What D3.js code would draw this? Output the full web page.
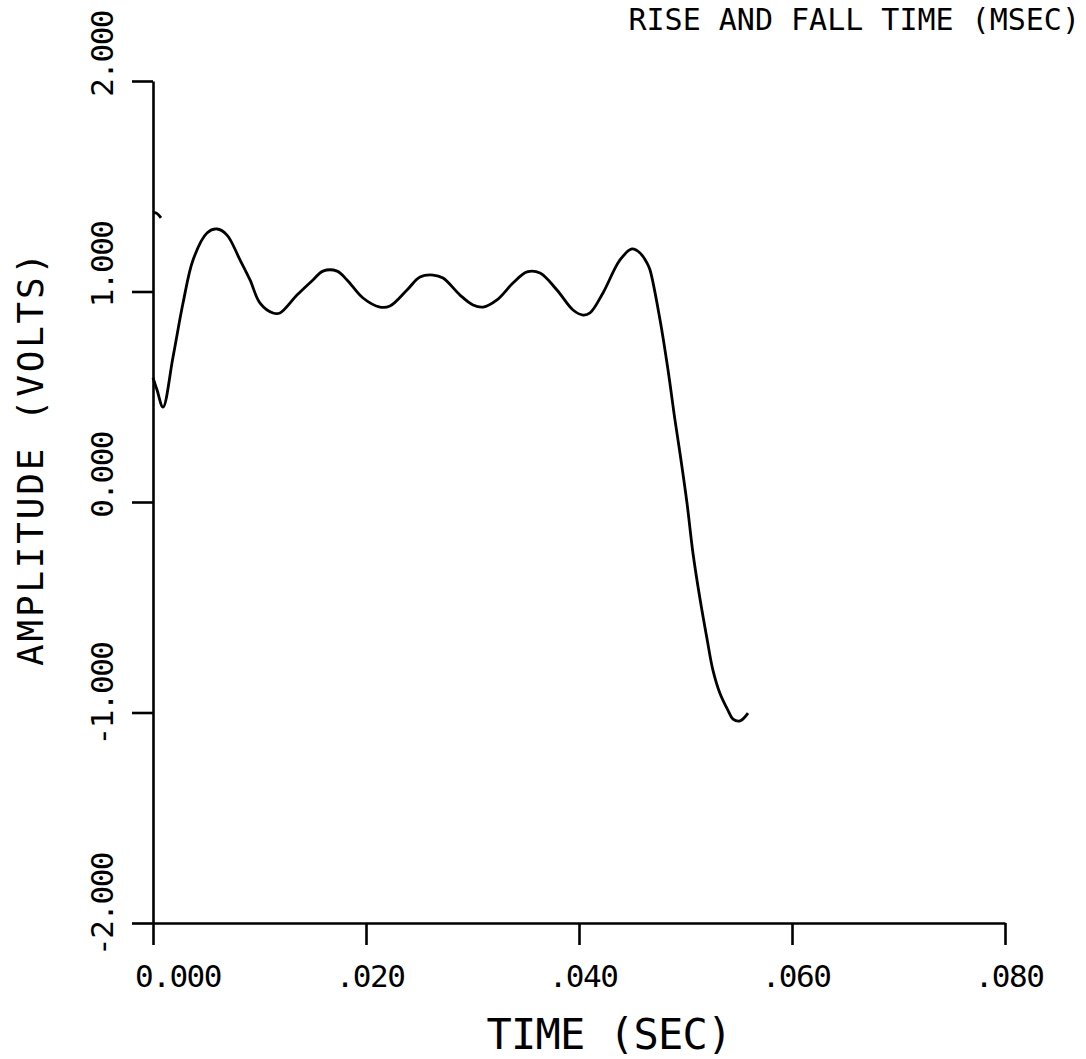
<!DOCTYPE html>
<html>
<head>
<meta charset="utf-8">
<script src="https://cdn.jsdelivr.net/npm/d3@7"></script>
<style>
  body { margin: 0; background: #fff; }
  text { font-family: "DejaVu Sans Mono", monospace; fill: #000; }
</style>
</head>
<body>
<svg id="chart"></svg>
<script>
// waveform: time in seconds, amplitude in volts
const timeSec = [0, 0.00038, 0.00094, 0.00188, 0.00282, 0.00376, 0.00507, 0.00601, 0.00695, 0.00817,
  0.00911, 0.01005, 0.01127, 0.01192, 0.01352, 0.01502, 0.01596, 0.01728, 0.01822, 0.01972,
  0.02131, 0.02225, 0.02385, 0.02507, 0.02629, 0.02723, 0.02883, 0.03005, 0.03099, 0.03230,
  0.03380, 0.03512, 0.03634, 0.03793, 0.03944, 0.04038, 0.04103, 0.04225, 0.04385, 0.04498,
  0.04573, 0.04639, 0.04667, 0.04761, 0.04836, 0.04901, 0.04948, 0.05014, 0.05070, 0.05136,
  0.05202, 0.05258, 0.05324, 0.05399, 0.05446, 0.05512, 0.05587]
const amplitude = [0.59, 0.532, 0.451, 0.689, 0.945, 1.150, 1.278, 1.297, 1.268, 1.150,
  1.055, 0.945, 0.898, 0.898, 0.983, 1.055, 1.097, 1.097, 1.055, 0.969,
  0.926, 0.931, 1.007, 1.069, 1.078, 1.064, 0.983, 0.936, 0.926, 0.960,
  1.040, 1.093, 1.088, 1.007, 0.912, 0.888, 0.898, 0.993, 1.150, 1.202,
  1.183, 1.135, 1.102, 0.865, 0.627, 0.390, 0.233, -0.005, -0.242, -0.46,
  -0.65, -0.80, -0.91, -0.99, -1.031, -1.040, -1.003]

// little pen hook at the very start of the trace
const hookTime = [0, 0.0003, 0.00075]
const hookAmp = [1.373, 1.373, 1.35]

const xTicks = [0, 0.02, 0.04, 0.06, 0.08]
const xTickLabels = ['0.000', '.020', '.040', '.060', '.080']
const yTicks = [-2, -1, 0, 1, 2]
const yTickLabels = ['-2.000', '-1.000', '0.000', '1.000', '2.000']

const title = 'RISE AND FALL TIME (MSEC)'
const xTitle = 'TIME (SEC)'
const yTitle = 'AMPLITUDE (VOLTS)'

const width = 1086
const height = 1059
const margin = {top: 81, right: 81, bottom: 136, left: 153}

const svg = d3.select('#chart')
  .attr('width', width)
  .attr('height', height)

const x = d3.scaleLinear()
  .domain([0, 0.08])
  .range([margin.left, width - margin.right])

const y = d3.scaleLinear()
  .domain([-2, 2])
  .range([height - margin.bottom, margin.top])

// axes: ticks double as the other axis's overhang
svg.append('g')
  .attr('transform', 'translate(' + x(0) + ',0)')
  .call(d3.axisLeft(y).tickValues(yTicks).tickSize(21).tickSizeOuter(0).tickFormat(''))
  .call(g => g.selectAll('path, line').attr('stroke', '#000').attr('stroke-width', 2.6))

svg.append('g')
  .attr('transform', 'translate(0,' + y(-2) + ')')
  .call(d3.axisBottom(x).tickValues(xTicks).tickSize(22).tickSizeOuter(0).tickFormat(''))
  .call(g => g.selectAll('path, line').attr('stroke', '#000').attr('stroke-width', 2.6))

// tick labels
svg.append('g')
  .selectAll('text')
  .data(yTicks)
  .enter()
  .append('text')
  .attr('transform', d => 'translate(113,' + (y(d) - 70) + ') rotate(-90)')
  .attr('text-anchor', 'end')
  .style('font-size', '31px')
  .style('letter-spacing', '-1.5px')
  .text((d, i) => yTickLabels[i])

svg.append('g')
  .selectAll('text')
  .data(xTicks)
  .enter()
  .append('text')
  .attr('x', (d, i) => x(d) + (i === 0 ? 25 : 4))
  .attr('y', 987)
  .attr('text-anchor', 'middle')
  .style('font-size', '31px')
  .style('letter-spacing', '-1.5px')
  .text((d, i) => xTickLabels[i])

// titles
svg.append('text')
  .attr('x', 1080)
  .attr('y', 30)
  .attr('text-anchor', 'end')
  .style('font-size', '30px')
  .text(title)

svg.append('text')
  .attr('x', 609)
  .attr('y', 1049)
  .attr('text-anchor', 'middle')
  .style('font-size', '42px')
  .style('letter-spacing', '-0.8px')
  .text(xTitle)

svg.append('text')
  .attr('transform', 'translate(43,458) rotate(-90)')
  .attr('text-anchor', 'middle')
  .style('font-size', '36px')
  .style('letter-spacing', '2.8px')
  .text(yTitle)

// trace
const line = d3.line()
  .x(d => x(d[0]))
  .y(d => y(d[1]))
  .curve(d3.curveCatmullRom.alpha(0.5))

svg.append('path')
  .datum(d3.zip(timeSec, amplitude))
  .attr('d', line)
  .attr('fill', 'none')
  .attr('stroke', '#000')
  .attr('stroke-width', 2.8)
  .attr('stroke-linejoin', 'round')

svg.append('path')
  .datum(d3.zip(hookTime, hookAmp))
  .attr('d', line)
  .attr('fill', 'none')
  .attr('stroke', '#000')
  .attr('stroke-width', 2.8)
</script>
</body>
</html>
